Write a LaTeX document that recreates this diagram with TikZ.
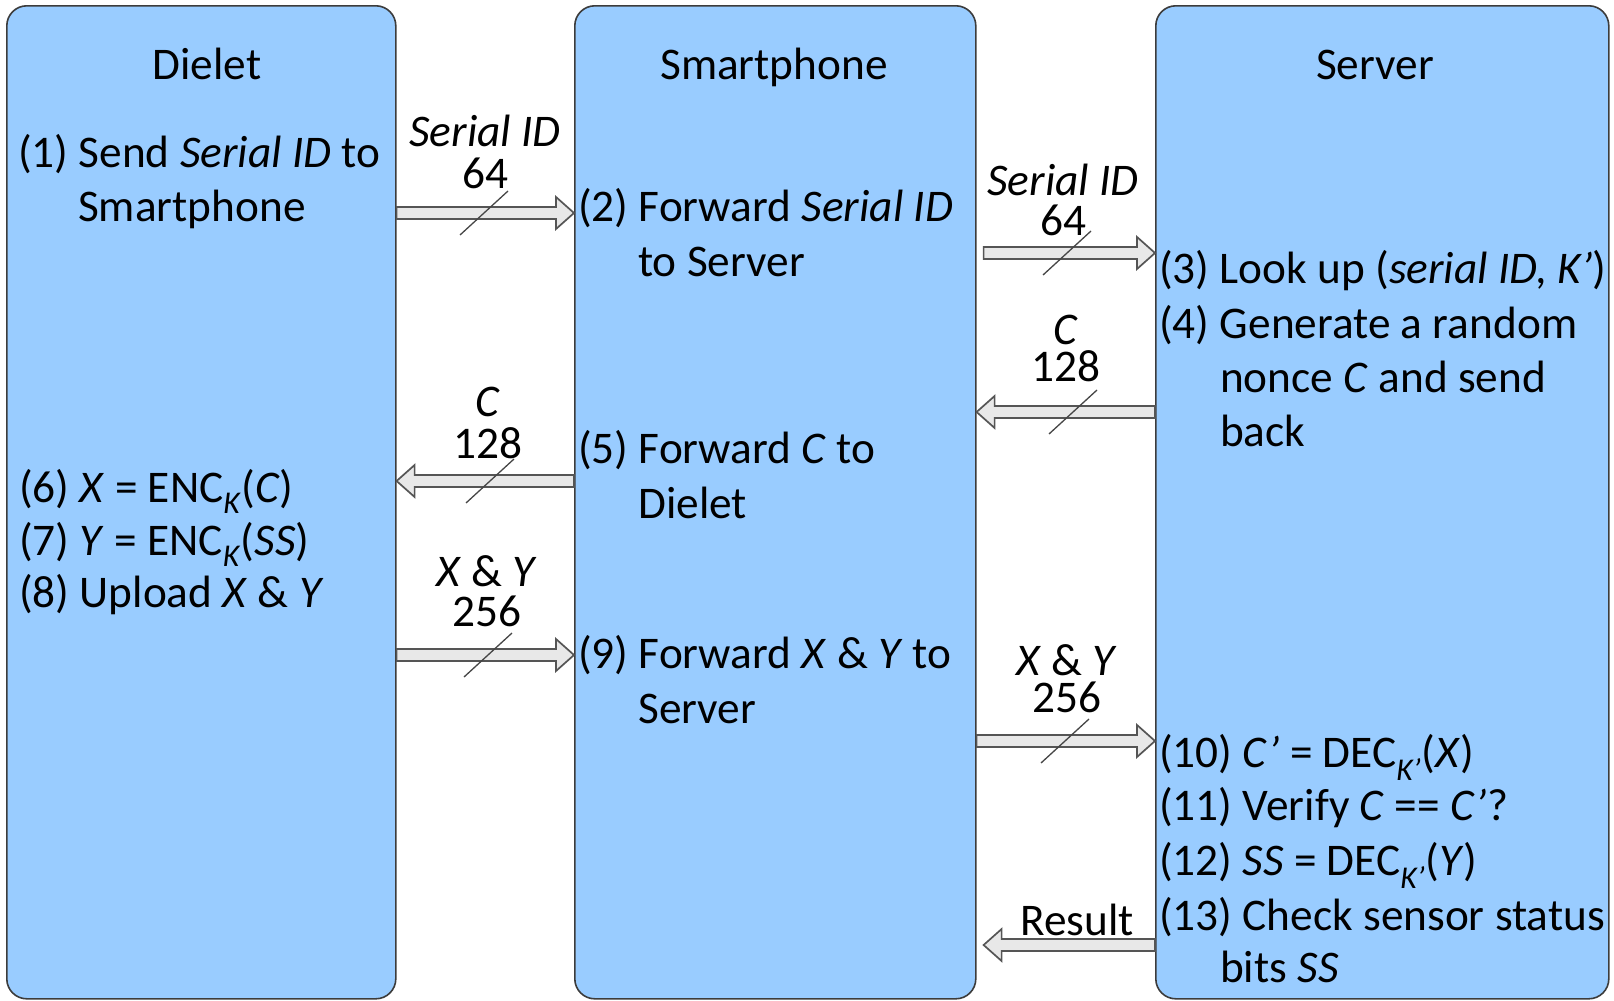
\documentclass[tikz,border=0pt]{standalone}
\usepackage{fontspec}
\setmainfont{Carlito}
\usetikzlibrary{calc}
\definecolor{lanefill}{RGB}{153,204,255}
\definecolor{laneedge}{RGB}{60,60,60}
\definecolor{arrowfill}{RGB}{232,232,232}
\definecolor{arrowedge}{RGB}{85,85,85}
\definecolor{slashcol}{RGB}{70,70,70}
\tikzset{
  lane/.style={draw=laneedge, fill=lanefill, line width=1.6pt, rounded corners=20pt, anchor=north west, inner sep=0pt},
  title/.style={anchor=base, inner sep=0pt, font=\fontsize{45.3}{54}\selectfont},
  txt/.style={anchor=base west, inner sep=0pt, font=\fontsize{45.3}{54}\selectfont},
  lbl/.style={anchor=base, inner sep=0pt, font=\fontsize{45.3}{54}\selectfont},
  lbl2/.style={anchor=south, inner sep=0pt, align=center, font=\fontsize{45.3}{40}\selectfont},
  barrow/.style={draw=arrowedge, fill=arrowfill, line width=1.7pt, line join=miter},
  slash/.style={draw=slashcol, line width=1.3pt}
}
\newcommand\blockarrow[2]{%
  \draw[barrow] let \p1=(#1), \p2=(#2), \n1={ifthenelse(\x2>\x1,1,-1)} in
    (\x1,\y1+6pt) -- ({\x2-(\n1)*18pt},\y1+6pt) -- ({\x2-(\n1)*18pt},\y1+16pt) --
    (\x2,\y1) -- ({\x2-(\n1)*18pt},\y1-16pt) -- ({\x2-(\n1)*18pt},\y1-6pt) --
    (\x1,\y1-6pt) -- cycle;}
\newcommand\slashmark[1]{%
  \draw[slash] ($(#1)+(-24,22)$) -- ($(#1)+(24,-22)$);}
\begin{document}
\begin{tikzpicture}[x=1pt,y=-1pt]
\useasboundingbox (0,0) rectangle (1614,1001);

% lanes
\node[lane, minimum width=389pt, minimum height=993pt] (dielet) at (6,5) {};
\node[lane, minimum width=401pt, minimum height=993pt] (phone) at (574,5) {};
\node[lane, minimum width=453pt, minimum height=993pt] (server) at (1155,5) {};

% titles
\node[title] (tdielet) at (207,79) {Dielet};
\node[title] (tphone) at (774,79) {Smartphone};
\node[title] (tserver) at (1375,79) {Server};

% Dielet text
\node[txt] (d1a) at (18,167) {(1) Send \textit{Serial ID} to};
\node[txt] (d1b) at (78,221) {Smartphone};
\node[txt] (d6) at (19,502) {(6) \textit{X} = ENC\textsubscript{\textit{K}}(\textit{C})};
\node[txt] (d7) at (19,555) {(7) \textit{Y} = ENC\textsubscript{\textit{K}}(\textit{SS})};
\node[txt] (d8) at (19,607) {(8) Upload \textit{X} \& \textit{Y}};

% Smartphone text
\node[txt] (p2a) at (578,221) {(2) Forward \textit{Serial ID}};
\node[txt] (p2b) at (638,276) {to Server};
\node[txt] (p5a) at (578,463) {(5) Forward \textit{C} to};
\node[txt] (p5b) at (638,518) {Dielet};
\node[txt] (p9a) at (578,668) {(9) Forward \textit{X} \& \textit{Y} to};
\node[txt] (p9b) at (638,723) {Server};

% Server text
\node[txt] (s3) at (1159,283) {(3) Look up (\textit{serial ID, K’})};
\node[txt] (s4a) at (1159,338) {(4) Generate a random};
\node[txt] (s4b) at (1220,392) {nonce \textit{C} and send};
\node[txt] (s4c) at (1220,446) {back};
\node[txt] (s10) at (1159,767) {(10) \textit{C’} = DEC\textsubscript{\textit{K’}}(\textit{X})};
\node[txt] (s11) at (1159,820) {(11) Verify \textit{C} == \textit{C’}?};
\node[txt] (s12) at (1159,875) {(12) \textit{SS} = DEC\textsubscript{\textit{K’}}(\textit{Y})};
\node[txt] (s13a) at (1159,930) {(13) Check sensor status};
\node[txt] (s13b) at (1220,982) {bits \textit{SS}};

% arrow levels
\coordinate (y1) at (0,213);
\coordinate (y2) at (0,253);
\coordinate (y3) at (0,412);
\coordinate (y4) at (0,481);
\coordinate (y5) at (0,655);
\coordinate (y6) at (0,741);
\coordinate (y7) at (0,945);

\coordinate (a1s) at (dielet.east |- y1);
\coordinate (a1e) at (phone.west |- y1);
\coordinate (a2s) at ($(phone.east |- y2)+(7,0)$);
\coordinate (a2e) at (server.west |- y2);
\coordinate (a3s) at (server.west |- y3);
\coordinate (a3e) at (phone.east |- y3);
\coordinate (a4s) at (phone.west |- y4);
\coordinate (a4e) at (dielet.east |- y4);
\coordinate (a5s) at (dielet.east |- y5);
\coordinate (a5e) at (phone.west |- y5);
\coordinate (a6s) at (phone.east |- y6);
\coordinate (a6e) at (server.west |- y6);
\coordinate (a7s) at (server.west |- y7);
\coordinate (a7e) at ($(phone.east |- y7)+(7,0)$);

\blockarrow{a1s}{a1e}
\blockarrow{a2s}{a2e}
\blockarrow{a3s}{a3e}
\blockarrow{a4s}{a4e}
\blockarrow{a5s}{a5e}
\blockarrow{a6s}{a6e}
\blockarrow{a7s}{a7e}

% slashes
\coordinate (m1) at (484,213);
\coordinate (m2) at (1067,253);
\coordinate (m3) at (1073,412);
\coordinate (m4) at (490,481);
\coordinate (m5) at (488,655);
\coordinate (m6) at (1065,741);
\slashmark{m1}
\slashmark{m2}
\slashmark{m3}
\slashmark{m4}
\slashmark{m5}
\slashmark{m6}

% labels
\node[lbl2] (l1) at (485,189) {\textit{Serial ID}\\[2pt]64};
\node[lbl2] (l2) at (1063,236) {\textit{Serial ID}\\64};
\node[lbl2] (l3) at (1066,382) {\textit{C}\\[-3pt]128};
\node[lbl2] (l4) at (488,459) {\textit{C}\\[2pt]128};
\node[lbl2] (l5) at (487,627) {\textit{X} \& \textit{Y}\\256};
\node[lbl2] (l6) at (1067,713) {\textit{X} \& \textit{Y}\\[-3pt]256};
\node[lbl] (l7) at (1077,935) {Result};
\end{tikzpicture}
\end{document}
